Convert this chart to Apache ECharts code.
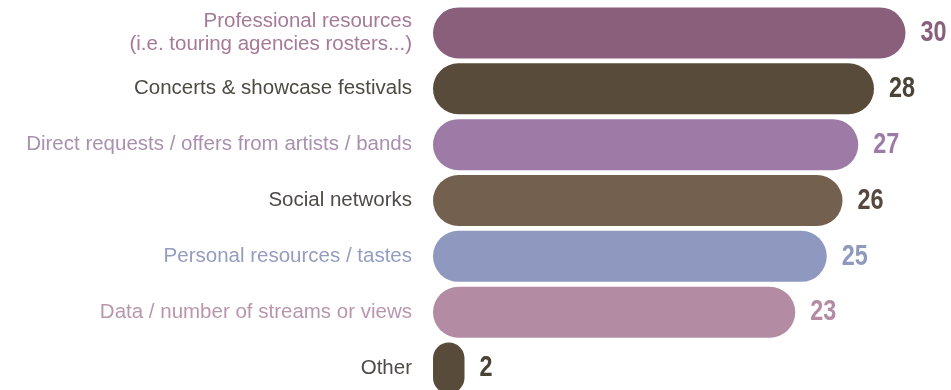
<!DOCTYPE html>
<html>
<head>
<meta charset="utf-8">
<script src="https://cdn.jsdelivr.net/npm/echarts@6/dist/echarts.min.js"></script>
<style>
  html, body { margin: 0; padding: 0; background: #ffffff; }
  #chart { width: 951px; height: 390px; }
</style>
</head>
<body>
<div id="chart"></div>
<script>
// Sources used to discover new artists (number of answers)
const categories = [
  'Professional resources\n(i.e. touring agencies rosters...)',
  'Concerts & showcase festivals',
  'Direct requests / offers from artists / bands',
  'Social networks',
  'Personal resources / tastes',
  'Data / number of streams or views',
  'Other'
];
const values = [30, 28, 27, 26, 25, 23, 2];

// Palette: bar fill, category text, value text
const barColors   = ['#8a5f7c', '#584b3a', '#9d7ba6', '#74604f', '#8f98be', '#b38ca3', '#584b3a'];
const labelColors = ['#a57997', '#4e4a42', '#aa90b0', '#4e4a46', '#949cc0', '#b996ad', '#4e4a46'];
const valueColors = ['#8a5f7c', '#4b4335', '#9d7ba6', '#56483f', '#8f98be', '#b38ca3', '#4b4335'];

const chart = echarts.init(document.getElementById('chart'), null, { renderer: 'canvas' });

// Value figures are drawn in a narrowed bold face, just past each bar's end
function renderValue(params, api) {
  const v = api.value(0);
  const idx = api.value(1);
  const p = api.coord([v, idx]);
  return {
    type: 'text',
    x: p[0] + 15,
    y: p[1],
    scaleX: 0.78,
    style: {
      text: String(v),
      fill: valueColors[idx],
      font: 'bold 30px "Liberation Sans", Arial, sans-serif',
      align: 'left',
      verticalAlign: 'middle'
    }
  };
}

chart.setOption({
  backgroundColor: '#ffffff',
  animation: false,
  grid: {
    left: 433, right: 14, top: 5, height: 391,
    containLabel: false,
    outerBoundsMode: 'none'
  },
  xAxis: {
    type: 'value',
    min: 0,
    max: 32,
    show: false
  },
  yAxis: {
    type: 'category',
    inverse: true,
    data: categories,
    axisLine: { show: false },
    axisTick: { show: false },
    splitLine: { show: false },
    axisLabel: {
      margin: 21,
      fontFamily: '"Liberation Sans", Arial, sans-serif',
      fontSize: 20.5,
      lineHeight: 23,
      align: 'right',
      color: (v, i) => labelColors[i]
    }
  },
  series: [
    {
      type: 'bar',
      barWidth: 51,
      data: values.map((v, i) => ({
        value: v,
        itemStyle: { color: barColors[i], borderRadius: 26 }
      }))
    },
    {
      type: 'custom',
      renderItem: renderValue,
      encode: { x: 0, y: 1 },
      data: values.map((v, i) => [v, i]),
      z: 3
    }
  ]
});
</script>
</body>
</html>
